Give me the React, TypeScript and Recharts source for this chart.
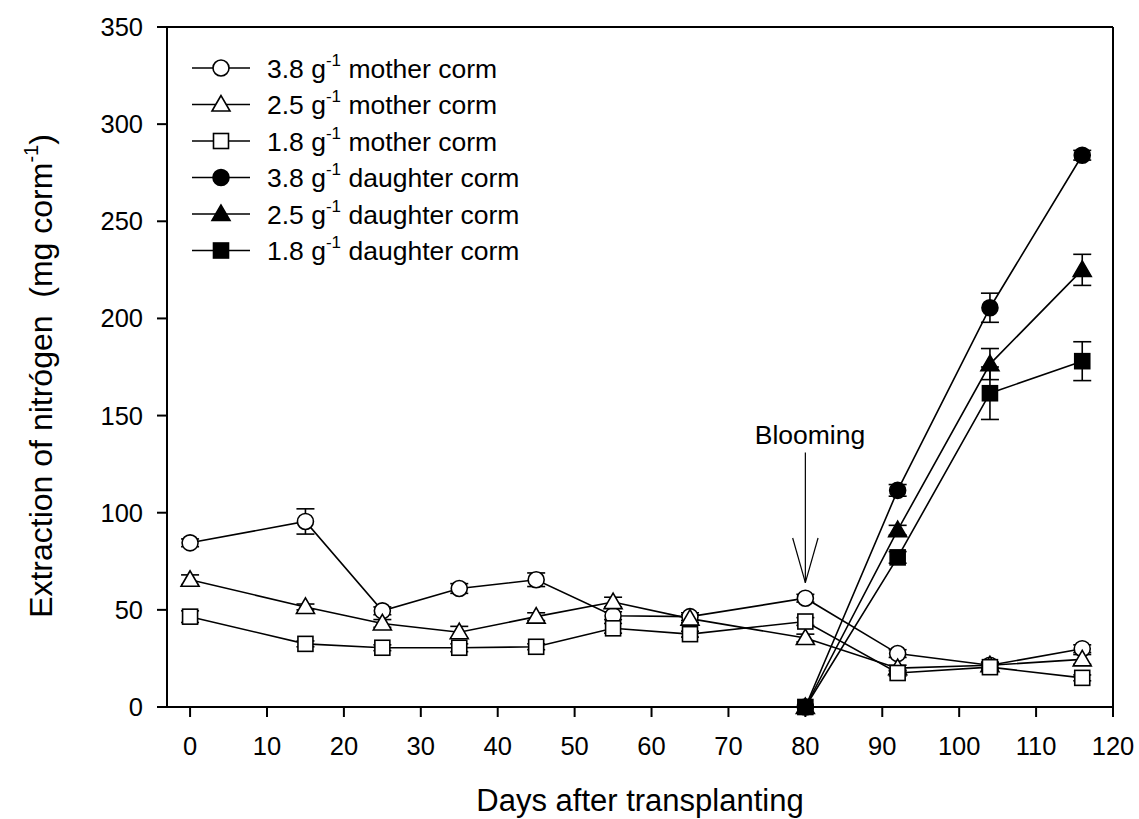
import React from 'react';
import { LineChart, Line, XAxis, YAxis, ErrorBar, ReferenceLine, ReferenceDot, Label } from 'recharts';

// days after transplanting
const days = [0, 15, 25, 35, 45, 55, 65, 80, 92, 104, 116];

// mother corms
const mother38 = [84.5, 95.5, 49.5, 61, 65.5, 47, 46.5, 56, 27.5, 21.5, 30];
const mother38Err = [2, 6.5, 2, 2.5, 3.5, 2, 2, 2, 2, 1.5, 2];
const mother25 = [65.5, 51.5, 43, 38.5, 46.5, 54, 45.5, 35.5, 20, 21.5, 24.5];
const mother25Err = [2.5, 1.5, 2, 3, 2, 2.5, 2, 2, 1.5, 1.5, 2.5];
const mother18 = [46.5, 32.5, 30.5, 30.5, 31, 40.5, 37.5, 44, 17.5, 20.5, 15];
const mother18Err = [3, 1.5, 1.5, 2, 1.5, 2.5, 1.5, 2, 1.5, 1.5, 1.5];

// daughter corms (appear from blooming on)
const daughter38 = [null, null, null, null, null, null, null, 0, 111.5, 205.5, 284];
const daughter38Err = [null, null, null, null, null, null, null, 0, 3, 7.5, 2.5];
const daughter25 = [null, null, null, null, null, null, null, 0, 91, 176.5, 225];
const daughter25Err = [null, null, null, null, null, null, null, 0, 2.5, 8, 8];
const daughter18 = [null, null, null, null, null, null, null, 0, 77, 161.5, 178];
const daughter18Err = [null, null, null, null, null, null, null, 0, 3, 13.5, 10];

const xTicks = [0, 10, 20, 30, 40, 50, 60, 70, 80, 90, 100, 110, 120];
const yTicks = [0, 50, 100, 150, 200, 250, 300, 350];

// blooming annotation (data units)
const bloomDay = 80;
const arrowTop = 131;
const arrowTip = 64;
const headY = 87;
const headHalf = 1.65;
const bloomLabelY = 140;

type Shape = 'circle' | 'triangle' | 'square';

const series: { key: string; name: string; shape: Shape; filled: boolean }[] = [
  { key: 'm38', name: '3.8 g|mother corm', shape: 'circle', filled: false },
  { key: 'm25', name: '2.5 g|mother corm', shape: 'triangle', filled: false },
  { key: 'm18', name: '1.8 g|mother corm', shape: 'square', filled: false },
  { key: 'd38', name: '3.8 g|daughter corm', shape: 'circle', filled: true },
  { key: 'd25', name: '2.5 g|daughter corm', shape: 'triangle', filled: true },
  { key: 'd18', name: '1.8 g|daughter corm', shape: 'square', filled: true },
];

const data = days.map((day, i) => ({
  day,
  m38: mother38[i], m38e: mother38Err[i],
  m25: mother25[i], m25e: mother25Err[i],
  m18: mother18[i], m18e: mother18Err[i],
  d38: daughter38[i], d38e: daughter38Err[i],
  d25: daughter25[i], d25e: daughter25Err[i],
  d18: daughter18[i], d18e: daughter18Err[i],
}));

const FONT = '"Liberation Sans", Arial, sans-serif';

function Marker({ cx, cy, shape, filled }: { cx: number; cy: number; shape: Shape; filled: boolean }) {
  const fill = filled ? '#000' : '#fff';
  const common = { fill, stroke: '#000', strokeWidth: 1.6 };
  if (shape === 'circle') return <circle cx={cx} cy={cy} r={8} {...common} />;
  if (shape === 'square') return <rect x={cx - 7.5} y={cy - 7.5} width={15} height={15} {...common} />;
  return <polygon points={`${cx},${cy - 9} ${cx - 9},${cy + 6.5} ${cx + 9},${cy + 6.5}`} {...common} />;
}

function LegendBox() {
  return (
    <svg width={600} height={290} style={{ position: 'absolute', left: 0, top: 0, pointerEvents: 'none' }}>
      {series.map((s, i) => {
        const y = 68 + i * 36.5;
        const [a, b] = s.name.split('|');
        return (
          <g key={s.key}>
            <line x1={192} x2={250} y1={y} y2={y} stroke="#000" strokeWidth={1.6} />
            <Marker cx={221} cy={y} shape={s.shape} filled={s.filled} />
            <text x={267} y={y + 9.5} fontSize={26.5} fill="#000" fontFamily={FONT} style={{ whiteSpace: 'pre' }}>
              {a}
              <tspan fontSize={17} dy={-12}>-1</tspan>
              <tspan fontSize={26.5} dy={12}>{' ' + b}</tspan>
            </text>
          </g>
        );
      })}
    </svg>
  );
}

export default function App() {
  return (
    <div style={{ position: 'absolute', left: 0, top: 0, width: 1139, height: 819, background: '#fff', fontFamily: FONT }}>
      <LineChart width={1139} height={819} data={data} margin={{ top: 27, right: 26, bottom: 0, left: 0 }}>
        <XAxis
          dataKey="day"
          type="number"
          domain={[-3, 120]}
          ticks={xTicks}
          interval={0}
          height={112}
          tickSize={10}
          tickMargin={20}
          axisLine={{ stroke: '#000', strokeWidth: 2 }}
          tickLine={{ stroke: '#000', strokeWidth: 2 }}
          tick={{ fill: '#000', fontSize: 25.5, fontFamily: FONT }}
        >
          <Label
            content={() => (
              <text x={640} y={811} textAnchor="middle" fontSize={31} fill="#000" fontFamily={FONT}>
                Days after transplanting
              </text>
            )}
          />
        </XAxis>
        <YAxis
          type="number"
          domain={[0, 350]}
          ticks={yTicks}
          interval={0}
          width={167}
          tickSize={10}
          tickMargin={14}
          axisLine={{ stroke: '#000', strokeWidth: 2 }}
          tickLine={{ stroke: '#000', strokeWidth: 2 }}
          tick={{ fill: '#000', fontSize: 25.5, fontFamily: FONT }}
        >
          <Label
            content={() => (
              <text
                x={52}
                y={376}
                transform="rotate(-90, 52, 376)"
                textAnchor="middle"
                fontSize={32}
                fill="#000"
                fontFamily={FONT}
                style={{ whiteSpace: 'pre' }}
              >
                {'Extraction of nitrógen  (mg corm'}
                <tspan fontSize={20} dy={-14}>-1</tspan>
                <tspan fontSize={32} dy={14}>)</tspan>
              </text>
            )}
          />
        </YAxis>

        <ReferenceLine y={350} stroke="#000" strokeWidth={2} />
        <ReferenceLine x={120} stroke="#000" strokeWidth={2} />

        <ReferenceLine segment={[{ x: bloomDay, y: arrowTop }, { x: bloomDay, y: arrowTip }]} stroke="#000" strokeWidth={1.2} />
        <ReferenceLine segment={[{ x: bloomDay - headHalf, y: headY }, { x: bloomDay, y: arrowTip }]} stroke="#000" strokeWidth={1.2} />
        <ReferenceLine segment={[{ x: bloomDay + headHalf, y: headY }, { x: bloomDay, y: arrowTip }]} stroke="#000" strokeWidth={1.2} />
        <ReferenceDot
          x={bloomDay + 0.6}
          y={bloomLabelY}
          r={1}
          fill="none"
          stroke="none"
          label={{ value: 'Blooming', position: 'center', fill: '#000', fontSize: 26.5, fontFamily: FONT }}
        />

        {series.map((s) => (
          <Line
            key={s.key}
            dataKey={s.key}
            stroke="#000"
            strokeWidth={1.6}
            isAnimationActive={false}
            activeDot={false}
            dot={(p: any) =>
              p.cx == null || p.cy == null || p.value == null ? (
                <g key={`${s.key}-${p.index}`} />
              ) : (
                <g key={`${s.key}-${p.index}`}>
                  <Marker cx={p.cx} cy={p.cy} shape={s.shape} filled={s.filled} />
                </g>
              )
            }
          >
            <ErrorBar dataKey={`${s.key}e`} width={9} stroke="#000" strokeWidth={1.6} direction="y" />
          </Line>
        ))}
      </LineChart>
      <LegendBox />
    </div>
  );
}
